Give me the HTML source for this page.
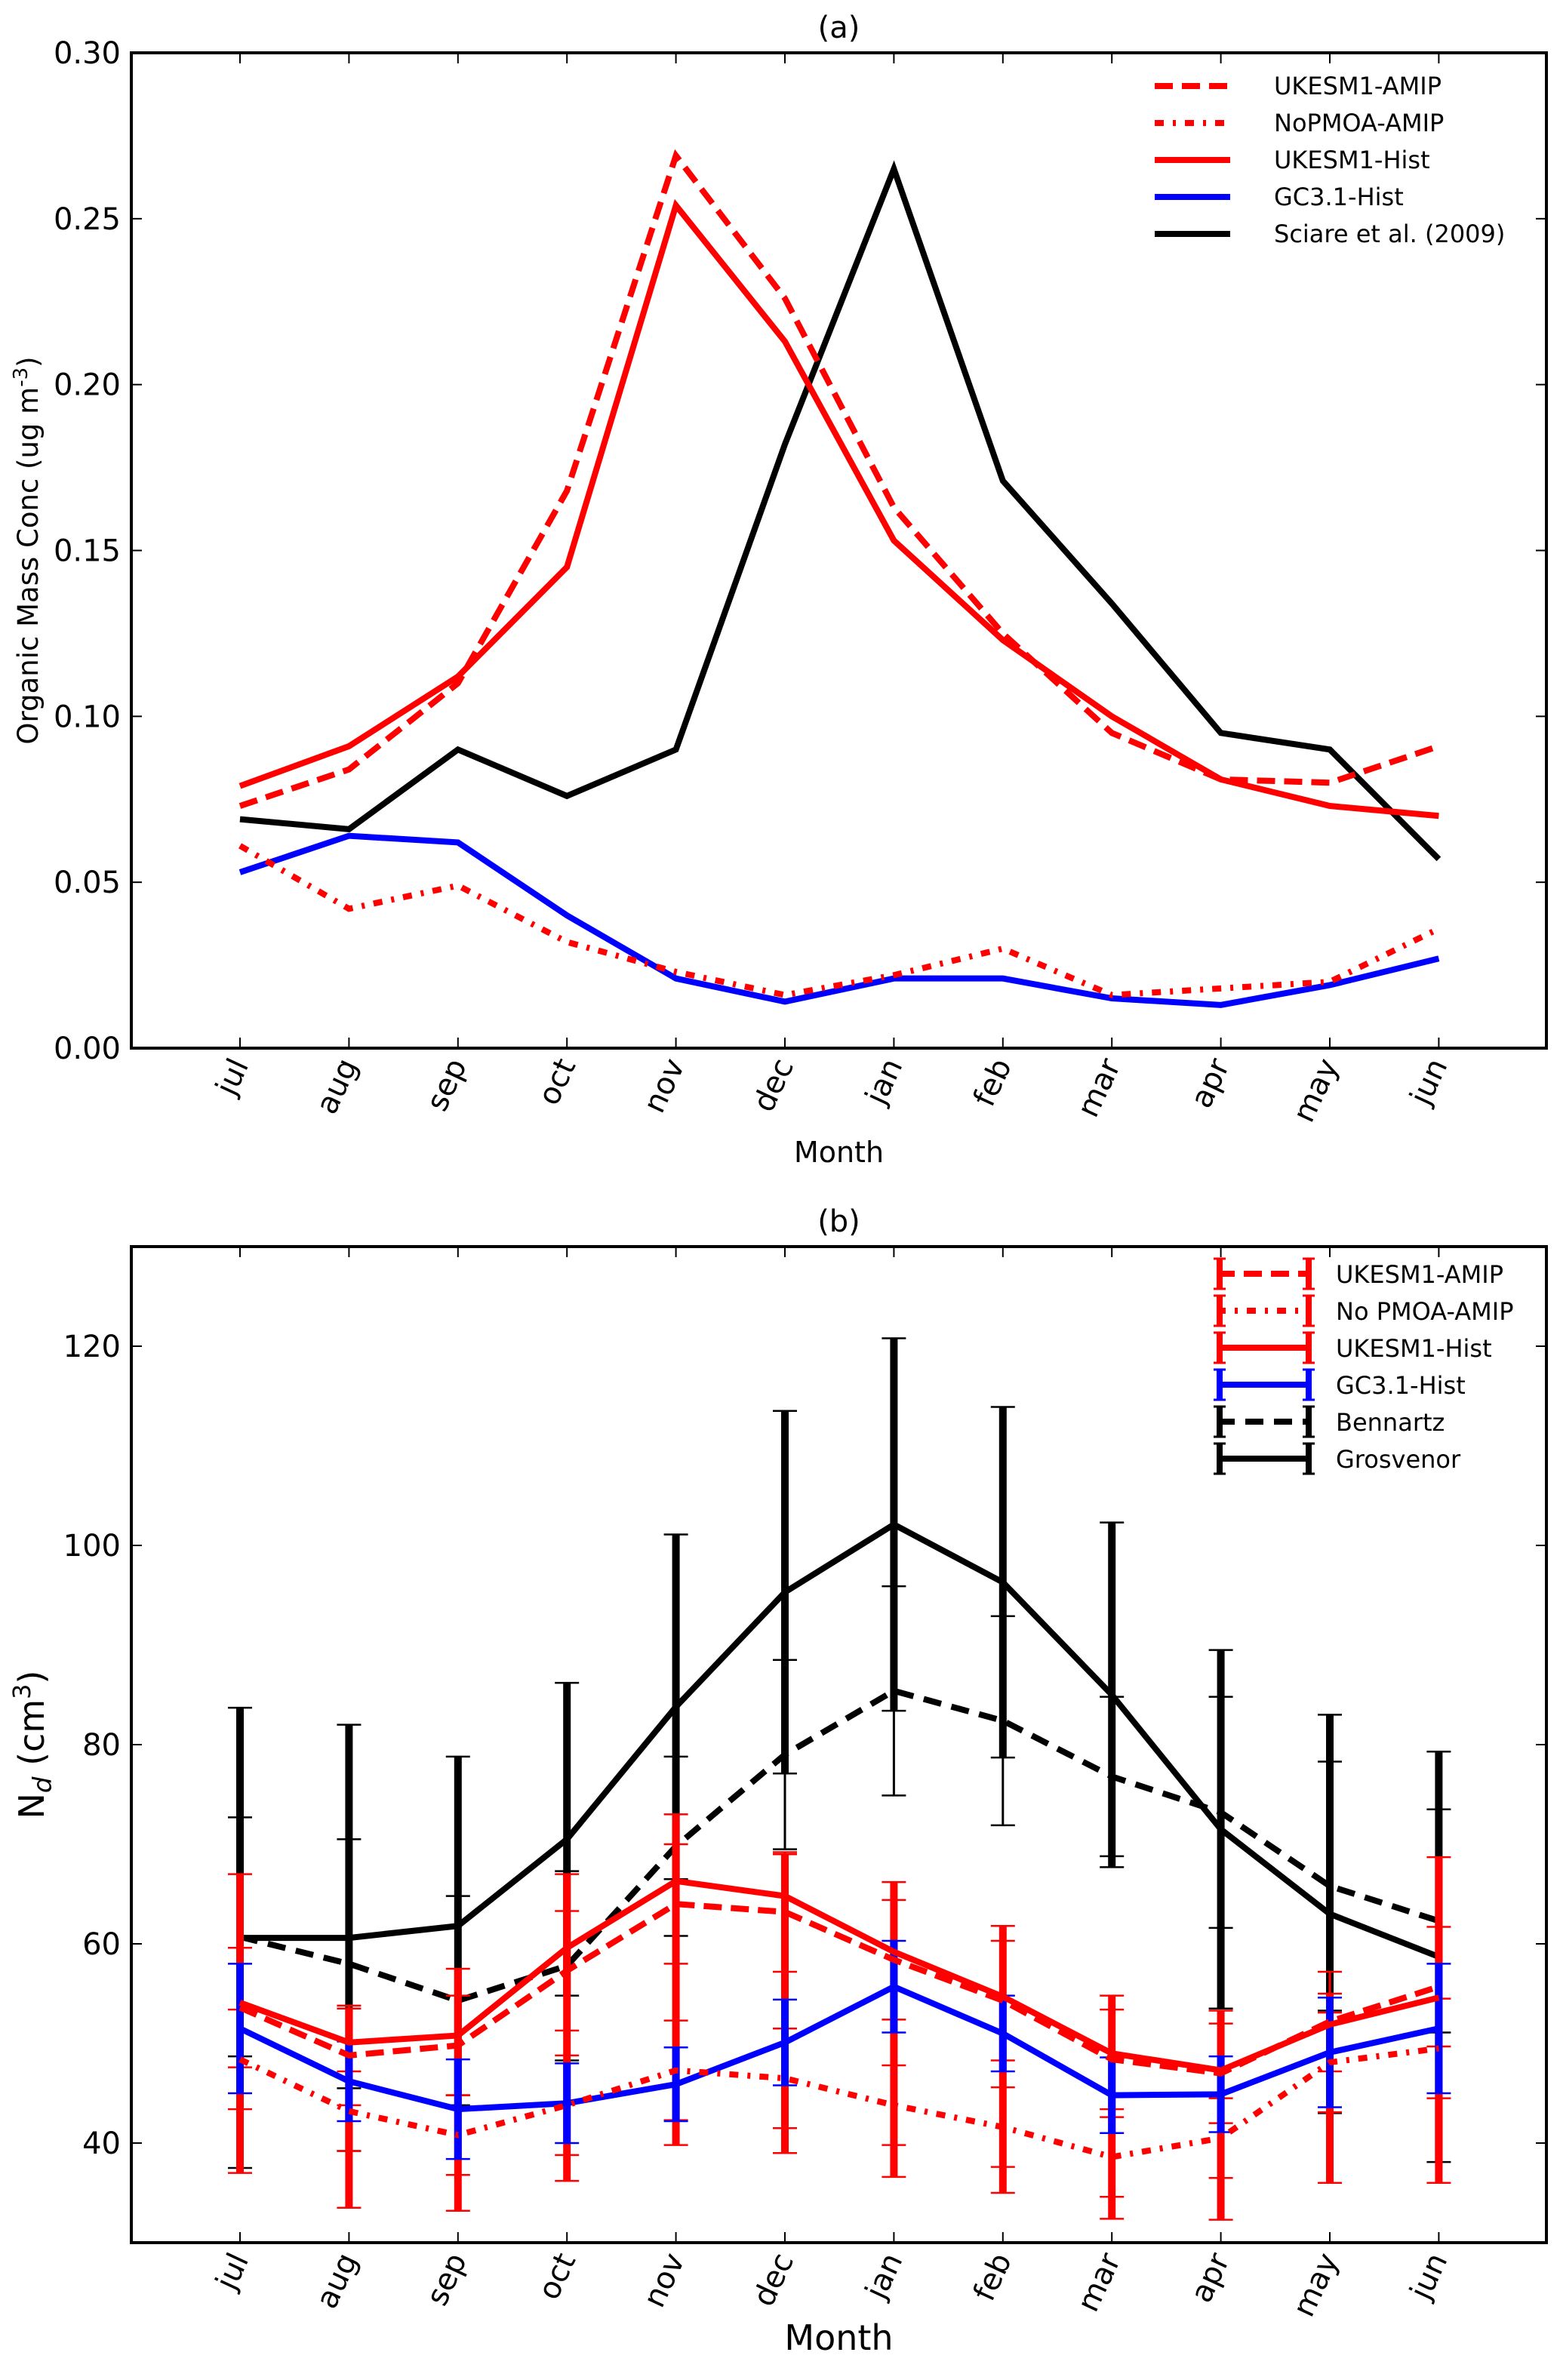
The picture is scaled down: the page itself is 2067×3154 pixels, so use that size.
<!DOCTYPE html>
<html><head><meta charset="utf-8">
<style>
html,body{margin:0;padding:0;background:#fff;}
svg{display:block;font-family:"DejaVu Sans","Liberation Sans",sans-serif;}
</style></head>
<body>
<svg id="fig" width="2067" height="3154" viewBox="0 0 2067 3154" xmlns="http://www.w3.org/2000/svg"></svg>
<script>
const months = ["jul","aug","sep","oct","nov","dec","jan","feb","mar","apr","may","jun"];
// Panel (a) values
const aUkesmAmip = [0.073,0.084,0.110,0.168,0.269,0.226,0.163,0.125,0.095,0.081,0.080,0.091];
const aNoPmoa    = [0.061,0.042,0.049,0.032,0.023,0.016,0.022,0.030,0.016,0.018,0.020,0.036];
const aUkesmHist = [0.079,0.091,0.112,0.145,0.254,0.213,0.153,0.123,0.100,0.081,0.073,0.070];
const aGc31      = [0.053,0.064,0.062,0.040,0.021,0.014,0.021,0.021,0.015,0.013,0.019,0.027];
const aSciare    = [0.069,0.066,0.090,0.076,0.090,0.182,0.265,0.171,0.134,0.095,0.090,0.057];
const aTicks = ["0.00","0.05","0.10","0.15","0.20","0.25","0.30"];
// Panel (b) values
const bUkesmAmip = [53.6,48.8,49.8,57.3,64.0,63.2,58.4,54.3,48.4,47.0,52.2,55.7];
const bUkesmAmipErr = [6,5,5,6,6,6,6,6,5,5,5,6];
const bNoPmoa = [48.4,43.2,40.8,43.8,47.3,46.5,43.8,41.6,38.6,40.5,48.1,49.5];
const bNoPmoaErr = [5,4,4,5,5,5,4,4,4,4,5,5];
const bUkesmHist = [54.1,50.1,50.8,59.6,66.3,64.8,59.2,54.7,49.0,47.3,51.9,54.6];
const bUkesmHistLow  = [37.0,33.5,33.2,36.2,39.8,39.0,36.6,35.0,32.4,32.3,36.0,36.0];
const bUkesmHistHigh = [67.0,53.5,57.5,67.0,73.0,69.0,66.2,61.8,54.8,53.3,55.0,68.7];
const bGc31 = [51.5,46.2,43.4,44.0,45.9,50.1,55.7,51.0,44.8,44.9,49.1,51.5];
const bGc31Err = [6.5,4,5,4,3.7,4.3,4.6,3.8,3.8,3.8,5.5,6.5];
const bBennartz = [60.7,58.0,54.3,57.8,69.8,79.0,85.4,82.4,76.8,73.2,65.8,62.3];
const bBennartzErr = [12,12.5,10.5,9.5,9,9.5,10.5,10.5,8,11.6,12.5,11.2];
const bGrosvenor = [60.6,60.6,61.8,70.5,83.8,95.3,102.1,96.3,85.0,71.5,63.0,58.7];
const bGrosvenorErr = [23.1,21.4,17,15.7,17.3,18.2,18.7,17.6,17.3,18,20,20.6];
const bTicks = [40,60,80,100,120];

const NS="http://www.w3.org/2000/svg";
const svg=document.getElementById('fig');
function el(tag,attrs,parent){const e=document.createElementNS(NS,tag);for(const k in attrs)e.setAttribute(k,attrs[k]);(parent||svg).appendChild(e);return e;}

const L=174,R=2049;
function xm(i){return 318+i*144.4;}

function drawAxes(top,bot,yfun,ticks,tickLabels,name){
  const g=el('g',{});
  
  
  ticks.forEach((v,k)=>{
    const y=yfun(v);
    el('line',{x1:L,x2:L+14,y1:y,y2:y,stroke:'#000','stroke-width':2},g);
    el('line',{x1:R-14,x2:R,y1:y,y2:y,stroke:'#000','stroke-width':2},g);
    const t=el('text',{x:L-14,y:y+14,'text-anchor':'end','font-size':40},g);
    t.textContent=tickLabels[k];
    
    
  });
  months.forEach((m,i)=>{
    const x=xm(i);
    el('line',{x1:x,x2:x,y1:bot,y2:bot-14,stroke:'#000','stroke-width':2},g);
    el('line',{x1:x,x2:x,y1:top,y2:top+14,stroke:'#000','stroke-width':2},g);
    const t=el('text',{x:0,y:0,'text-anchor':'end','font-size':40,transform:`translate(${x+12},${bot+22}) rotate(-65)`},g);
    t.textContent=m;
    
    
  });
  const r=el('rect',{x:L,y:top,width:R-L,height:bot-top,fill:'none',stroke:'#000','stroke-width':4},g);
  
  
}

function drawLine(vals,yfun,color,dash,name){
  const pts=vals.map((v,i)=>xm(i)+','+yfun(v)).join(' ');
  const p=el('polyline',{points:pts,fill:'none',stroke:color,'stroke-width':8,'stroke-dasharray':dash||'none','stroke-linejoin':'miter'});
  
  
}
function drawErrLH(lo,hi,yfun,color,w,name){
  const g=el('g',{});
  
  
  lo.forEach((v,i)=>{
    const x=xm(i),y1=yfun(lo[i]),y2=yfun(hi[i]);
    el('line',{x1:x,x2:x,y1:y1,y2:y2,stroke:color,'stroke-width':w},g);
    el('line',{x1:x-16,x2:x+16,y1:y1,y2:y1,stroke:color,'stroke-width':2.5},g);
    el('line',{x1:x-16,x2:x+16,y1:y2,y2:y2,stroke:color,'stroke-width':2.5},g);
  });
}
function drawErr(vals,errs,yfun,color,w,name){
  drawErrLH(vals.map((v,i)=>v-errs[i]),vals.map((v,i)=>v+errs[i]),yfun,color,w,name);
}

// ---- Panel (a)
const aTop=70,aBot=1389;
const ya=v=>aBot-(v/0.30)*(aBot-aTop);
let t=el('text',{x:(L+R)/2,y:50,'text-anchor':'middle','font-size':40});t.textContent='(a)';

drawLine(aSciare,ya,'#000',null,'line-sciare');
drawLine(aGc31,ya,'#0000ff',null,'line-gc31-hist');
drawLine(aUkesmHist,ya,'#ff0000',null,'line-ukesm1-hist');
drawLine(aNoPmoa,ya,'#ff0000','12,12,4,12','line-nopmoa-amip');
drawLine(aUkesmAmip,ya,'#ff0000','24,12','line-ukesm1-amip');
drawAxes(aTop,aBot,ya,aTicks.map(Number),aTicks,'panel-a');
t=el('text',{x:0,y:0,'text-anchor':'middle','font-size':37,transform:`translate(50,${(aTop+aBot)/2}) rotate(-90)`});
t.innerHTML='Organic Mass Conc (ug m<tspan dy="-14" font-size="26">-3</tspan><tspan dy="14">)</tspan>';

t=el('text',{x:(L+R)/2,y:1540,'text-anchor':'middle','font-size':38});t.textContent='Month';

const legA=[['UKESM1-AMIP','#ff0000','24,12'],['NoPMOA-AMIP','#ff0000','12,12,4,12'],['UKESM1-Hist','#ff0000',null],['GC3.1-Hist','#0000ff',null],['Sciare et al. (2009)','#000',null]];
legA.forEach((e,k)=>{
  const y=114+k*49;
  const g=el('g',{});
  
  
  el('line',{x1:1530,x2:1630,y1:y,y2:y,stroke:e[1],'stroke-width':8,'stroke-dasharray':e[2]||'none'},g);
  const tt=el('text',{x:1688,y:y+11,'font-size':32},g);tt.textContent=e[0];
});

// ---- Panel (b)
const bTop=1652,bBot=2972;
const yb=v=>bBot-(v-30)/100*(bBot-bTop);
t=el('text',{x:(L+R)/2,y:1632,'text-anchor':'middle','font-size':40});t.textContent='(b)';

drawErr(bGrosvenor,bGrosvenorErr,yb,'#000',10,'errorbars-grosvenor');
drawLine(bGrosvenor,yb,'#000',null,'line-grosvenor');
drawErr(bBennartz,bBennartzErr,yb,'#000',3,'errorbars-bennartz');
drawLine(bBennartz,yb,'#000','24,14','line-bennartz');
drawErrLH(bUkesmHistLow,bUkesmHistHigh,yb,'#ff0000',10,'errorbars-ukesm1-hist');
drawErr(bUkesmAmip,bUkesmAmipErr,yb,'#ff0000',3,'errorbars-ukesm1-amip');
drawErr(bNoPmoa,bNoPmoaErr,yb,'#ff0000',3,'errorbars-nopmoa-amip');
drawErr(bGc31,bGc31Err,yb,'#0000ff',10,'errorbars-gc31-hist');
drawLine(bGc31,yb,'#0000ff',null,'line-gc31-hist-b');
drawLine(bNoPmoa,yb,'#ff0000','12,12,4,12','line-nopmoa-amip-b');
drawLine(bUkesmAmip,yb,'#ff0000','24,12','line-ukesm1-amip-b');
drawLine(bUkesmHist,yb,'#ff0000',null,'line-ukesm1-hist-b');
drawAxes(bTop,bBot,yb,bTicks,bTicks.map(String),'panel-b');
t=el('text',{x:0,y:0,'text-anchor':'middle','font-size':46,transform:`translate(58,${(bTop+bBot)/2}) rotate(-90)`});
t.innerHTML='N<tspan dy="10" font-size="34" font-style="italic">d</tspan><tspan dy="-10"> (cm</tspan><tspan dy="-18" font-size="32">3</tspan><tspan dy="18">)</tspan>';

t=el('text',{x:(L+R)/2,y:3114,'text-anchor':'middle','font-size':46});t.textContent='Month';

const legB=[['UKESM1-AMIP','#ff0000','24,12'],['No PMOA-AMIP','#ff0000','12,12,4,12'],['UKESM1-Hist','#ff0000',null],['GC3.1-Hist','#0000ff',null],['Bennartz','#000','24,14'],['Grosvenor','#000',null]];
legB.forEach((e,k)=>{
  const y=1688+k*49;
  const g=el('g',{});
  
  
  el('line',{x1:1612,x2:1738,y1:y,y2:y,stroke:e[1],'stroke-width':8,'stroke-dasharray':e[2]||'none'},g);
  [1616,1734].forEach(x=>{
    el('line',{x1:x,x2:x,y1:y-20,y2:y+20,stroke:e[1],'stroke-width':8},g);
    el('line',{x1:x-8,x2:x+8,y1:y-20,y2:y-20,stroke:e[1],'stroke-width':3},g);
    el('line',{x1:x-8,x2:x+8,y1:y+20,y2:y+20,stroke:e[1],'stroke-width':3},g);
  });
  const tt=el('text',{x:1770,y:y+12,'font-size':32},g);tt.textContent=e[0];
});
</script>
</body></html>
